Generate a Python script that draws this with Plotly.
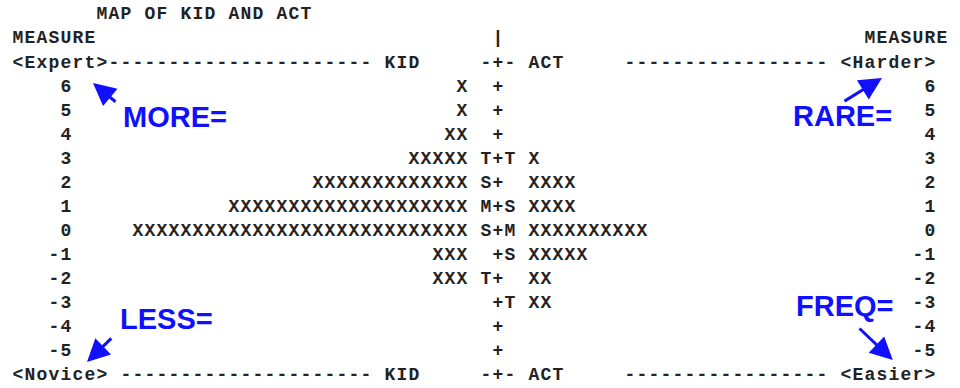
import plotly.graph_objects as go

# Wright map: measure levels, counts of KID (persons) and ACT (items) per level
measures = [6, 5, 4, 3, 2, 1, 0, -1, -2, -3, -4, -5]
kid_counts = [1, 1, 2, 5, 13, 20, 28, 3, 3, 0, 0, 0]
act_counts = [0, 0, 0, 1, 4, 4, 10, 5, 2, 2, 0, 0]
kid_marks = ["", "", "", "T", "S", "M", "S", "", "T", "", "", ""]
act_marks = ["", "", "", "T", "", "S", "M", "S", "", "T", "", ""]

INK = "#222222"
BLUE = "#1010ff"
mono = dict(family="Liberation Mono, DejaVu Sans Mono, monospace",
            size=18, color=INK, weight="bold")
sans = dict(family="Liberation Sans, Arial, sans-serif",
            size=29, color=BLUE, weight="bold")


def cells(items):
    # spread strings over a character grid: one point per character
    xs, ys, ts = [], [], []
    for col, row, s in items:
        for i, ch in enumerate(s):
            if ch != " ":
                xs.append(col + i)
                ys.append(row)
                ts.append(ch)
    return xs, ys, ts


def text_trace(items):
    xs, ys, ts = cells(items)
    return go.Scatter(x=xs, y=ys, text=ts, mode="text",
                      textposition="middle center", textfont=mono,
                      cliponaxis=False, hoverinfo="skip", showlegend=False)


fig = go.Figure()

# KID X's grow leftwards from column -3, ACT X's rightwards from column 3
kid_items = [(-2 - n, m, "X" * n) for m, n in zip(measures, kid_counts) if n]
act_items = [(3, m, "X" * n) for m, n in zip(measures, act_counts) if n]
fig.add_trace(text_trace(kid_items))
fig.add_trace(text_trace(act_items))

# central ruler with mean / SD markers
ruler = [(0, m, "+") for m in measures]
ruler += [(-1, m, t) for m, t in zip(measures, kid_marks) if t]
ruler += [(1, m, t) for m, t in zip(measures, act_marks) if t]
fig.add_trace(text_trace(ruler))

# measure scale on both sides (right-aligned)
scale = [(-36 - len(str(m)) + 1, m, str(m)) for m in measures]
scale += [(36 - len(str(m)) + 1, m, str(m)) for m in measures]
fig.add_trace(text_trace(scale))

# header and footer lines
frame = [
    (-33, 9, "MAP OF KID AND ACT"),
    (-40, 8, "MEASURE"), (0, 8, "|"), (31, 8, "MEASURE"),
    (-40, 7, "<Expert>"), (-32, 7, "-" * 22), (-9, 7, "KID"),
    (-1, 7, "-+-"), (3, 7, "ACT"), (11, 7, "-" * 17), (29, 7, "<Harder>"),
    (-40, -6, "<Novice>"), (-31, -6, "-" * 21), (-9, -6, "KID"),
    (-1, -6, "-+-"), (3, -6, "ACT"), (11, -6, "-" * 17), (29, -6, "<Easier>"),
]
fig.add_trace(text_trace(frame))

# blue callouts
for x, y, t in [(-31.4, 4.74, "MORE="), (24.4, 4.80, "RARE="),
                (-31.7, -3.63, "LESS="), (24.7, -3.09, "FREQ=")]:
    fig.add_annotation(x=x, y=y, text=t, showarrow=False, xanchor="left",
                       yanchor="middle", font=sans, xref="x", yref="y")

for tip, tail in [((-33.75, 6.17), (-31.75, 5.34)),
                  ((32.0, 6.38), (28.75, 5.38)),
                  ((-34.25, -5.42), (-32.1, -4.38)),
                  ((32.9, -5.34), (30.0, -3.97))]:
    fig.add_annotation(x=tip[0], y=tip[1], ax=tail[0], ay=tail[1],
                       xref="x", yref="y", axref="x", ayref="y", text="",
                       showarrow=True, arrowhead=2, arrowsize=1.5,
                       arrowwidth=3, arrowcolor=BLUE)

fig.update_xaxes(range=[-41.5, 38.5], visible=False, showgrid=False,
                 zeroline=False, fixedrange=True)
fig.update_yaxes(range=[-6.5, 9.62], visible=False, showgrid=False,
                 zeroline=False, fixedrange=True)
fig.update_layout(width=960, height=388, margin=dict(l=0, r=0, t=0, b=0),
                  plot_bgcolor="white", paper_bgcolor="white")

fig.write_html("out.html", config={"displayModeBar": False},
               post_script="document.body.style.margin='0';")
